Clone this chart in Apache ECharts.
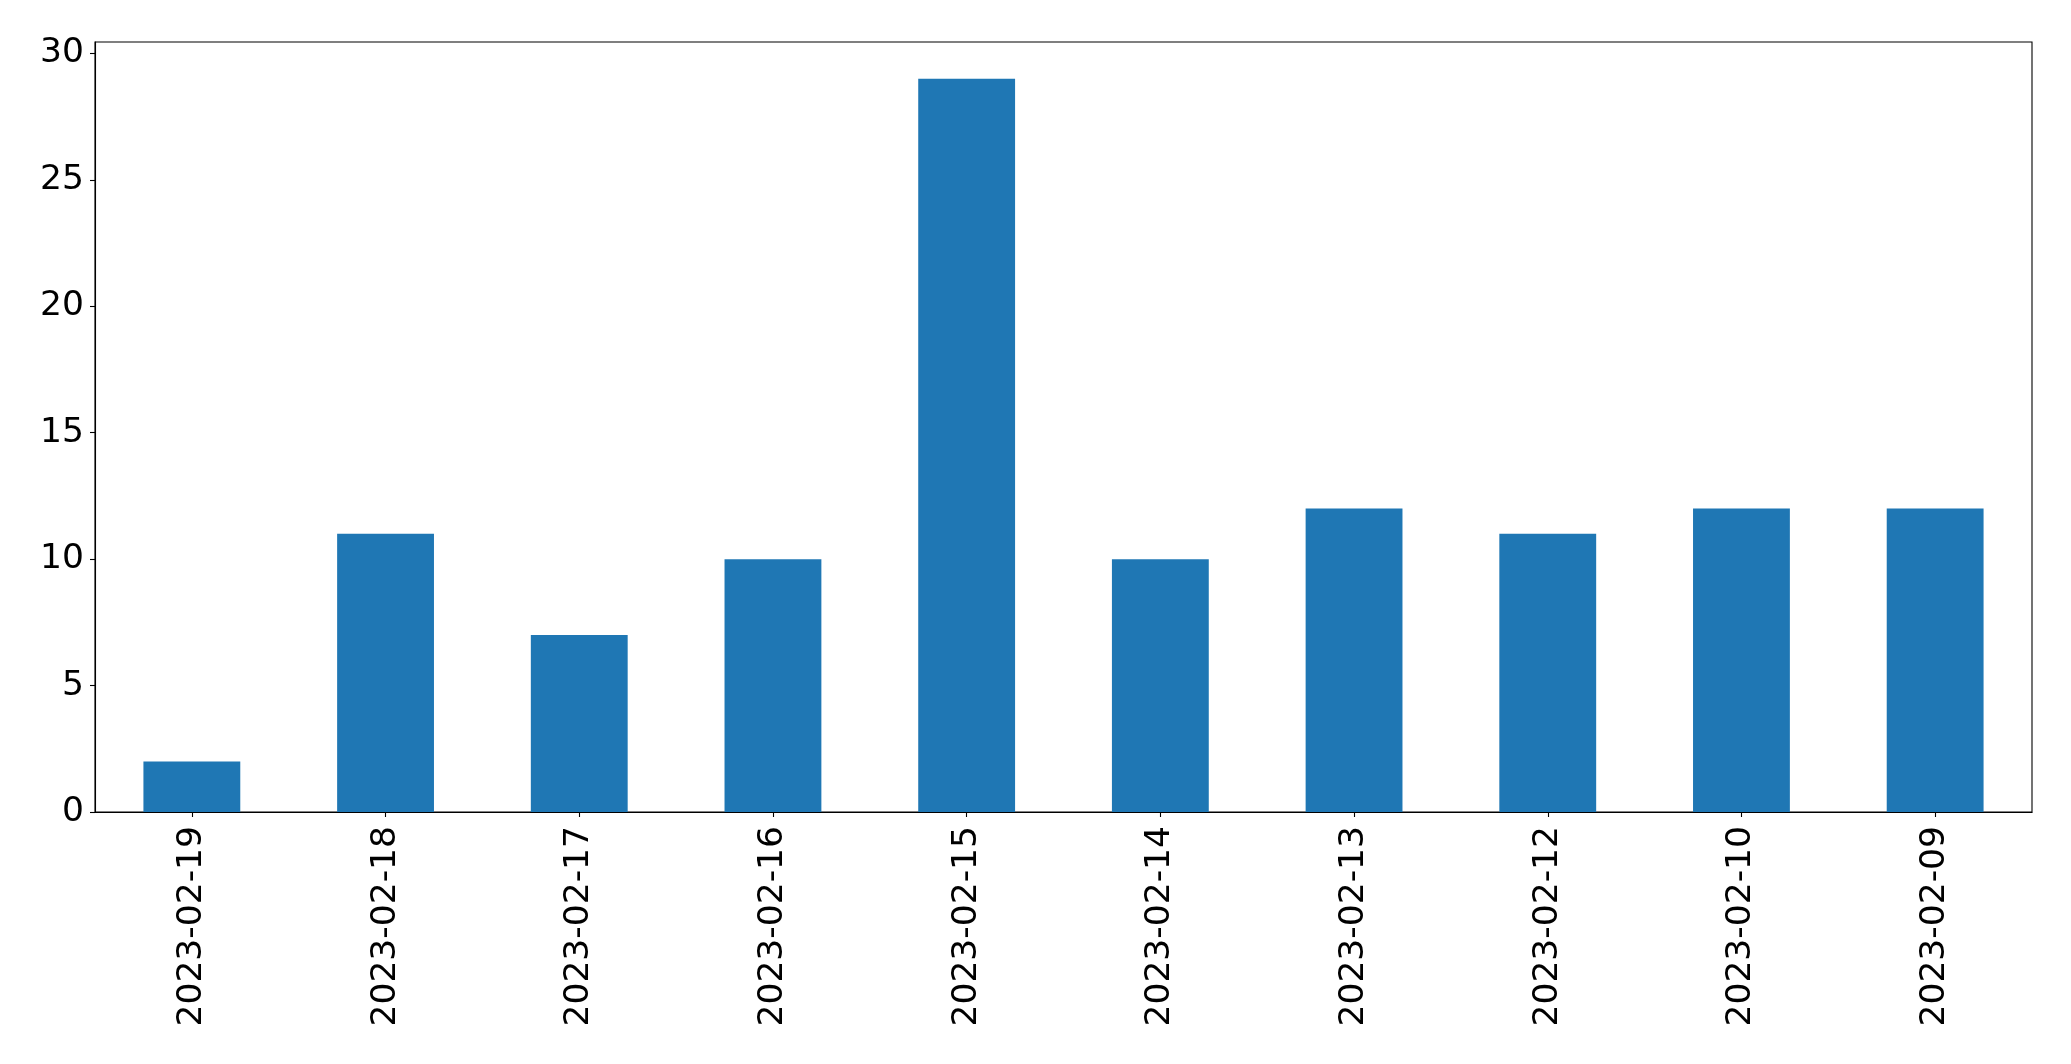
<!DOCTYPE html>
<html>
<head>
<meta charset="utf-8">
<script src="https://cdn.jsdelivr.net/npm/echarts@6/dist/echarts.min.js"></script>
<style>
html,body{margin:0;padding:0;background:#fff;}
#chart{width:2071px;height:1064px;}
</style>
</head>
<body>
<div id="chart"></div>
<script>
const categories = ['2023-02-19','2023-02-18','2023-02-17','2023-02-16','2023-02-15','2023-02-14','2023-02-13','2023-02-12','2023-02-10','2023-02-09'];
const values = [2, 11, 7, 10, 29, 10, 12, 11, 12, 12];
const yTicks = [0, 5, 10, 15, 20, 25, 30];

const chart = echarts.init(document.getElementById('chart'), null, {renderer: 'canvas'});
const font = 'DejaVu Sans';
chart.setOption({
  animation: false,
  backgroundColor: '#ffffff',
  grid: {
    left: 95, right: 39, top: 42, bottom: 252,
    containLabel: false,
    outerBoundsMode: 'none',
    show: true,
    borderColor: '#000000',
    borderWidth: 1.1,
    backgroundColor: 'transparent'
  },
  xAxis: {
    type: 'category',
    data: categories,
    boundaryGap: true,
    axisLine: {show: true, lineStyle: {color: '#000', width: 1.1}},
    axisTick: {show: true, alignWithLabel: true, length: 5, lineStyle: {color: '#000', width: 1.1}},
    axisLabel: {rotate: 90, margin: 14, color: '#000', fontFamily: font, fontSize: 34.5, interval: 0},
    splitLine: {show: false}
  },
  yAxis: {
    type: 'value',
    min: 0,
    max: 30.45,
    interval: 5,
    axisLine: {show: true, lineStyle: {color: '#000', width: 1.1}},
    axisTick: {show: true, length: 5, lineStyle: {color: '#000', width: 1.1}},
    axisLabel: {
      showMaxLabel: false,
      margin: 11, color: '#000', fontFamily: font, fontSize: 34.5,
      padding: [7, 0, 0, 0],
      formatter: function (v) { return yTicks.indexOf(v) >= 0 ? String(v) : ''; }
    },
    splitLine: {show: false}
  },
  series: [{
    type: 'bar',
    data: values,
    barWidth: '50%',
    itemStyle: {color: '#1f77b4'}
  }]
});
</script>
</body>
</html>
